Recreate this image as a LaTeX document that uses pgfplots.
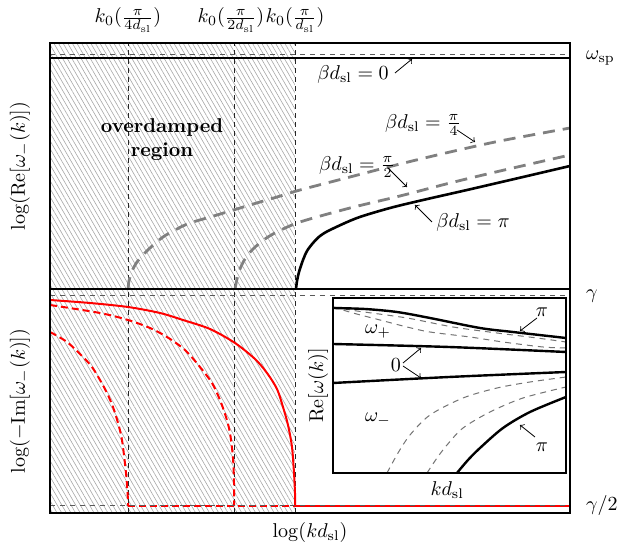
\documentclass[border=0pt]{standalone}
\usepackage{pgfplots}
\pgfplotsset{compat=1.18}
\usetikzlibrary{patterns.meta}
\begin{document}
\begin{tikzpicture}[x=1pt,y=1pt]
\path[use as bounding box] (0,0) rectangle (311.5,271);
\pgfplotsset{
  every axis/.append style={scale only axis, axis line style={line width=0.8pt}, ticks=none, clip=false, axis on top},
}
\tikzset{
  hatch/.style={draw=none, pattern={Lines[angle=-60,distance=2pt,line width=0.3pt]}, pattern color=black!35},
  vdash/.style={black!85, line width=0.45pt, dash pattern=on 2.5pt off 2pt},
  hdash/.style={black!65, line width=0.5pt, dash pattern=on 2.5pt off 2.5pt},
  graydash/.style={black!50, line width=1.4pt, dash pattern=on 6pt off 4pt},
  thickblack/.style={black, line width=1.3pt},
  redsolid/.style={red, line width=1pt},
  reddash/.style={red, line width=1pt, dash pattern=on 3.5pt off 2pt},
  ann/.style={->, >=to, line width=0.4pt},
}
% ---------------- upper panel ----------------
\begin{axis}[at={(25pt,126.5pt)}, anchor=south west, width=260pt, height=123pt,
  xmin=0, xmax=520, ymin=0, ymax=246,
  ylabel={$\log(\mathrm{Re}[\omega_-(k)])$},
  ylabel style={at={(axis description cs:-0.058,0.5)}, anchor=center}]
\addplot[hatch] coordinates {(0,0) (245,0) (245,246) (0,246)} -- cycle;
\addplot[vdash] coordinates {(78,0) (78,246)};
\addplot[vdash] coordinates {(184,0) (184,246)};
\addplot[vdash] coordinates {(245,0) (245,246)};
\addplot[hdash] coordinates {(0,234) (520,234)};
\addplot[thickblack] coordinates {(0,231) (520,231)};
% beta d = pi/4
\addplot[graydash, smooth] coordinates {(78,0) (79,8) (82,18) (87,27) (93,34) (100,41) (113,52) (127,60) (140,66) (167,74) (200,84) (227,92) (250,99) (300,112) (350,125) (400,137) (450,148) (520,161)};
% beta d = pi/2
\addplot[graydash, smooth] coordinates {(185,0) (187,10) (190,20) (195,30) (203,40) (215,50) (227,57) (250,67) (300,81) (350,93) (400,106) (450,118) (520,134)};
% beta d = pi
\addplot[thickblack, smooth] coordinates {(246,0) (247,8) (249,17) (253,29) (257,38) (263,46) (270,53) (280,59) (307,71) (340,81) (373,89) (417,99) (473,112) (520,123)};
\node[font=\bfseries, align=center] at (axis cs:112,149) {overdamped\\region};
\node at (axis cs:303,214) {$\beta d_{\mathrm{sl}} = 0$};
\draw[ann] (axis cs:345,216) -- (axis cs:362,230);
\node at (axis cs:373,164) {$\beta d_{\mathrm{sl}} = \frac{\pi}{4}$};
\draw[ann] (axis cs:407,159) -- (axis cs:425,147);
\node at (axis cs:307,122) {$\beta d_{\mathrm{sl}} = \frac{\pi}{2}$};
\draw[ann] (axis cs:338,121) -- (axis cs:357,102);
\node at (axis cs:423,66) {$\beta d_{\mathrm{sl}} = \pi$};
\draw[ann] (axis cs:382,67) -- (axis cs:365,84);
\node[yshift=11.5pt] at (axis cs:78,246) {$k_0(\frac{\pi}{4d_{\mathrm{sl}}})$};
\node[yshift=11.5pt] at (axis cs:181,246) {$k_0(\frac{\pi}{2d_{\mathrm{sl}}})$};
\node[yshift=11.5pt] at (axis cs:245,246) {$k_0(\frac{\pi}{d_{\mathrm{sl}}})$};
\node[anchor=west, xshift=4.5pt] at (axis cs:520,231) {$\omega_{\mathrm{sp}}$};
\end{axis}
% ---------------- lower panel ----------------
\begin{axis}[at={(25pt,14.5pt)}, anchor=south west, width=260pt, height=112pt,
  xmin=0, xmax=520, ymin=0, ymax=224,
  ylabel={$\log(-\mathrm{Im}[\omega_-(k)])$},
  ylabel style={at={(axis description cs:-0.058,0.5)}, anchor=center},
  xlabel={$\log(kd_{\mathrm{sl}})$},
  xlabel style={at={(axis description cs:0.5,-0.089)}, anchor=center}]
\addplot[hatch] coordinates {(0,0) (245,0) (245,224) (0,224)} -- cycle;
\addplot[vdash] coordinates {(78,0) (78,224)};
\addplot[vdash] coordinates {(184,0) (184,224)};
\addplot[vdash] coordinates {(245,0) (245,224)};
\addplot[hdash] coordinates {(0,217) (520,217)};
% solid red (beta d = pi)
\addplot[redsolid, smooth] coordinates {(0,213) (40,210) (78,206) (110,200) (133,193) (160,184) (185,170) (205,154) (217,140) (227,124) (233,106) (238,88) (242,66) (244,40) (245,20) (245,7)};
\addplot[redsolid] coordinates {(245,7) (520,7)};
% dashed red (beta d = pi/2)
\addplot[reddash, smooth] coordinates {(0,208) (50,200) (78,193) (100,185) (117,176) (135,163) (150,146) (162,130) (170,113) (176,96) (180,80) (183,55) (184,30) (184,7)};
% dashed red (beta d = pi/4)
\addplot[reddash, smooth] coordinates {(0,181) (17,171) (33,156) (42,146) (50,133) (57,120) (63,106) (68,90) (72,73) (76,40) (78,13) (78,7)};
\addplot[reddash] coordinates {(78,7) (245,7)};
\addplot[hdash] coordinates {(0,7) (520,7)};
\node[anchor=west, xshift=4.5pt] at (axis cs:520,217) {$\gamma$};
\node[anchor=west, xshift=4.5pt] at (axis cs:520,7) {$\gamma/2$};
\end{axis}
% ---------------- inset ----------------
\begin{axis}[at={(166.5pt,34.5pt)}, anchor=south west, width=116.5pt, height=87.5pt,
  xmin=0, xmax=233, ymin=0, ymax=175,
  axis line style={line width=0.7pt},
  axis background/.style={fill=white},
  xlabel={$kd_{\mathrm{sl}}$},
  xlabel style={at={(axis description cs:0.49,-0.097)}, anchor=center},
  ylabel={$\mathrm{Re}[\omega(k)]$},
  ylabel style={at={(axis description cs:-0.064,0.5)}, anchor=center}]
\addplot[black!55, line width=0.5pt, dash pattern=on 3pt off 2.5pt, smooth] coordinates {(0,166) (24,162) (74,155) (120,146) (164,140) (204,135) (233,131)};
\addplot[black!55, line width=0.5pt, dash pattern=on 3pt off 2.5pt, smooth] coordinates {(0,166) (20,160) (47,153) (74,146) (97,141) (137,136) (170,131) (210,126) (233,125)};
\addplot[black, line width=1.2pt, smooth] coordinates {(0,165) (32,164) (64,161) (97,155) (147,145) (180,141) (233,135)};
\addplot[black, line width=1.2pt, smooth] coordinates {(0,129) (116,126) (233,121)};
\addplot[black, line width=1.2pt, smooth] coordinates {(0,90) (116,96) (233,101)};
\addplot[black!55, line width=0.5pt, dash pattern=on 3pt off 2.5pt, smooth] coordinates {(54,0) (65,20) (77,38) (97,58) (130,75) (164,85) (197,91) (233,96)};
\addplot[black!55, line width=0.5pt, dash pattern=on 3pt off 2.5pt, smooth] coordinates {(94,0) (104,15) (114,28) (130,45) (157,61) (190,75) (233,86)};
\addplot[black, line width=1.2pt, smooth] coordinates {(124,0) (135,13) (147,25) (170,45) (197,61) (233,76)};
\node at (axis cs:209,161) {$\pi$};
\draw[ann] (axis cs:204,155) -- (axis cs:187,142);
\node at (axis cs:45,141) {$\omega_+$};
\node at (axis cs:63,108) {$0$};
\draw[ann] (axis cs:70,110) -- (axis cs:88,125);
\draw[ann] (axis cs:70,107) -- (axis cs:88,95);
\node at (axis cs:45,53) {$\omega_-$};
\node at (axis cs:209,26) {$\pi$};
\draw[ann] (axis cs:202,36) -- (axis cs:187,48);
\end{axis}
\end{tikzpicture}
\end{document}
